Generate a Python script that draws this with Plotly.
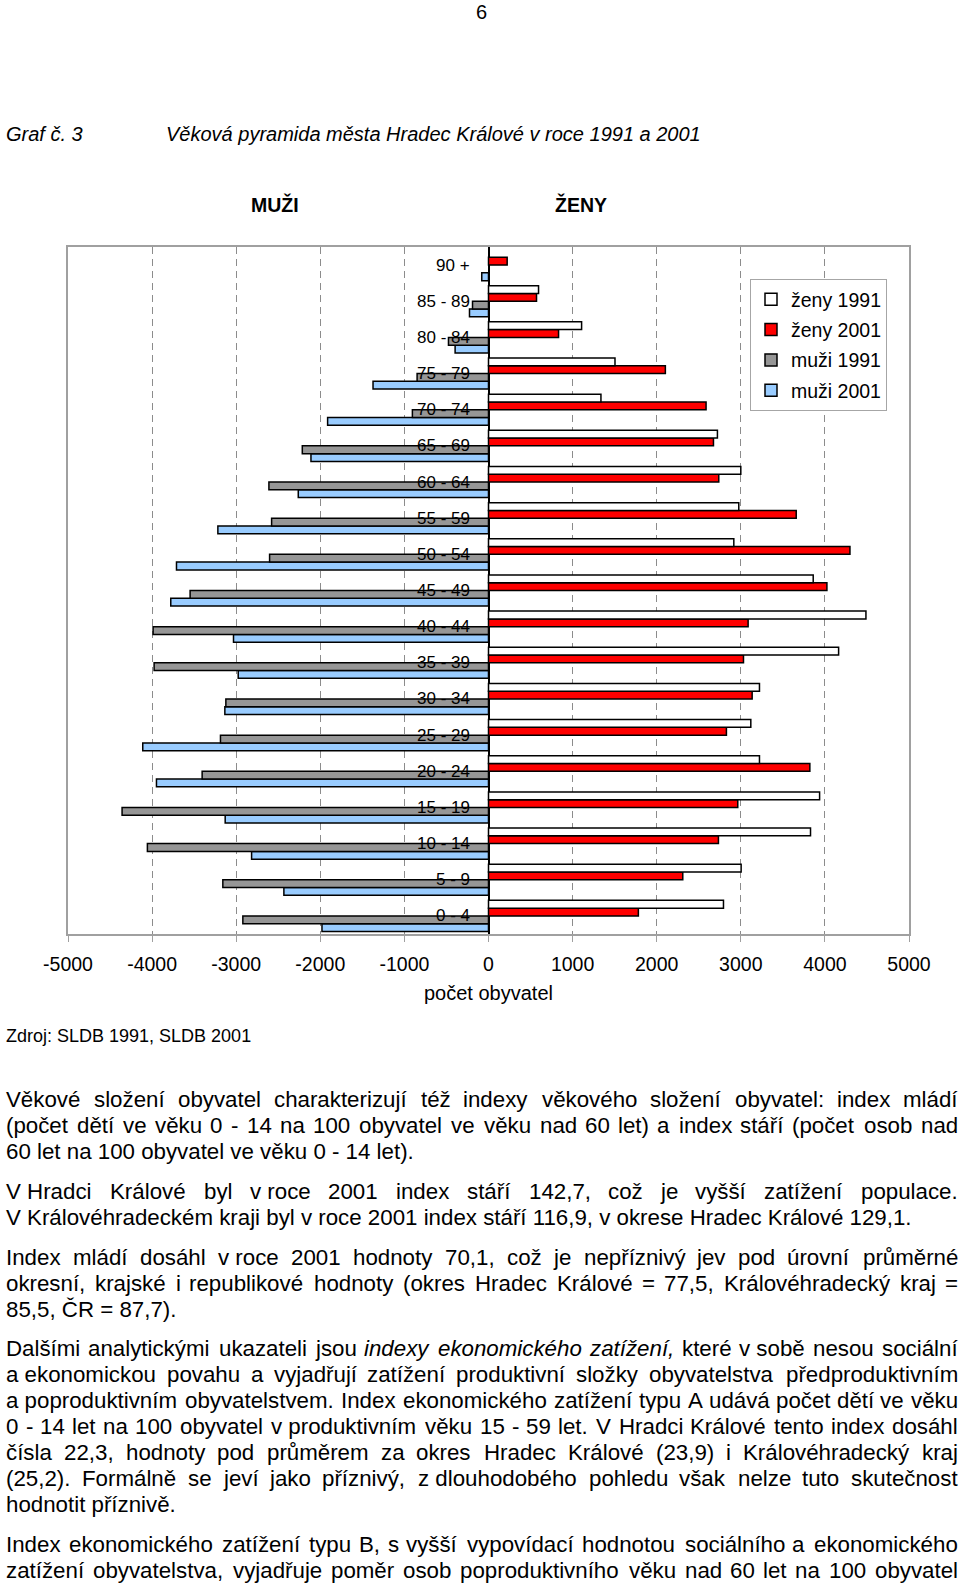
import plotly.graph_objects as go

# ---------------- data ----------------
categories = ["0 - 4", "5 - 9", "10 - 14", "15 - 19", "20 - 24", "25 - 29", "30 - 34",
              "35 - 39", "40 - 44", "45 - 49", "50 - 54", "55 - 59", "60 - 64", "65 - 69",
              "70 - 74", "75 - 79", "80 - 84", "85 - 89", "90 +"]
zeny_1991 = [2794, 3004, 3829, 3937, 3222, 3119, 3222, 4163, 4488, 3861, 2917, 2976, 3000,
             2722, 1337, 1504, 1107, 595, None]
zeny_2001 = [1782, 2310, 2734, 2964, 3821, 2829, 3135, 3032, 3087, 4024, 4298, 3659, 2738,
             2675, 2587, 2103, 833, 571, 222]
muzi_1991 = [2921, 3159, 4056, 4357, 3405, 3187, 3123, 3976, 3988, 3548, 2603, 2579, 2611,
             2214, 905, 849, 476, 190, None]
muzi_2001 = [1980, 2433, 2817, 3131, 3948, 4111, 3135, 2976, 3032, 3778, 3710, 3218, 2262,
             2111, 1913, 1373, 397, 226, 80]
x_ticks = [-5000, -4000, -3000, -2000, -1000, 0, 1000, 2000, 3000, 4000, 5000]
x_tick_labels = ["-5000", "-4000", "-3000", "-2000", "-1000", "0", "1000", "2000", "3000", "4000", "5000"]

page_number = "6"
graf_label = "Graf č. 3"
title_text = "Věková pyramida města Hradec Králové v roce 1991 a 2001"
left_head = "MUŽI"
right_head = "ŽENY"
x_title = "počet obyvatel"
source_text = "Zdroj: SLDB 1991, SLDB 2001"

NB = "\u00a0"
body_lines = [
    ("Věkové složení obyvatel charakterizují též indexy věkového složení obyvatel: index mládí", True),
    ("(počet dětí ve věku 0 - 14 na 100 obyvatel ve věku nad 60 let) a index stáří (počet osob nad", True),
    ("60 let na 100 obyvatel ve věku 0 - 14 let).", False),
    ("V" + NB + "Hradci Králové byl v" + NB + "roce 2001 index stáří 142,7, což je vyšší zatížení populace.", True),
    ("V" + NB + "Královéhradeckém kraji byl v" + NB + "roce 2001 index stáří 116,9, v okrese Hradec Králové 129,1.", False),
    ("Index mládí dosáhl v" + NB + "roce 2001 hodnoty 70,1, což je nepříznivý jev pod úrovní průměrné", True),
    ("okresní, krajské i republikové hodnoty (okres Hradec Králové = 77,5, Královéhradecký kraj =", True),
    ("85,5, ČR = 87,7).", False),
    ("Dalšími analytickými ukazateli jsou <i>indexy</i> <i>ekonomického</i> <i>zatížení,</i> které v" + NB + "sobě nesou sociální", True),
    ("a" + NB + "ekonomickou povahu a vyjadřují zatížení produktivní složky obyvatelstva předproduktivním", True),
    ("a" + NB + "poproduktivním obyvatelstvem. Index ekonomického zatížení typu A udává počet dětí ve věku", True),
    ("0 - 14 let na 100 obyvatel v" + NB + "produktivním věku 15 - 59 let. V Hradci Králové tento index dosáhl", True),
    ("čísla 22,3, hodnoty pod průměrem za okres Hradec Králové (23,9) i Královéhradecký kraj", True),
    ("(25,2). Formálně se jeví jako příznivý, z" + NB + "dlouhodobého pohledu však nelze tuto skutečnost", True),
    ("hodnotit příznivě.", False),
    ("Index ekonomického zatížení typu B, s vyšší vypovídací hodnotou sociálního a ekonomického", True),
    ("zatížení obyvatelstva, vyjadřuje poměr osob poproduktivního věku nad 60 let na 100 obyvatel", True),
]
body_y = [1099, 1125, 1151, 1191, 1217, 1257, 1283, 1309, 1348, 1374, 1400, 1426, 1452, 1478,
          1504, 1544, 1570]

# ---------------- layout helpers ----------------
W, H = 960, 1583
ML, MR, MT, MB = 68, 51, 247, 649
PW = W - ML - MR
PH = H - MT - MB


def fx(x):
    return (x - ML) / PW


def fy(y):
    return (H - MB - y) / PH


SANS = "Liberation Sans, Arial, sans-serif"

AW = {' ': 278, NB: 278, '!': 278, '(': 333, ')': 333, ',': 278, '-': 333, '.': 278, ':': 278,
      '=': 584, 'A': 667, 'B': 667, 'C': 722, 'D': 722, 'E': 667, 'F': 611, 'H': 722, 'I': 278,
      'K': 667, 'L': 556, 'M': 833, 'R': 722, 'S': 667, 'V': 667, 'Z': 611, 'Č': 722, 'Ž': 611,
      'N': 722, 'Y': 667, 'U': 722, 'a': 556, 'b': 556, 'c': 500, 'd': 556, 'e': 556, 'f': 278,
      'g': 556, 'h': 556, 'i': 222, 'j': 222, 'k': 500, 'l': 222, 'm': 833, 'n': 556, 'o': 556,
      'p': 556, 'r': 333, 's': 500, 't': 278, 'u': 556, 'v': 500, 'w': 722, 'x': 500, 'y': 500,
      'z': 500, 'á': 556, 'é': 556, 'ě': 556, 'í': 278, 'ý': 500, 'č': 500, 'ř': 333, 'š': 500,
      'ž': 500, 'ů': 556, 'ú': 556, 'ď': 615}


def strip(s):
    return s.replace("<i>", "").replace("</i>", "")


def text_w(s, size):
    return sum(AW.get(c, 556) for c in strip(s)) / 1000.0 * size * 1.012


fig = go.Figure()

series = [("muži 2001", muzi_2001, "#99CCFF", -1, 4),
          ("muži 1991", muzi_1991, "#969696", -1, 3),
          ("ženy 2001", zeny_2001, "#FF0000", 1, 2),
          ("ženy 1991", zeny_1991, "#FFFFFF", 1, 1)]
for name, vals, color, sign, rank in series:
    fig.add_trace(go.Bar(
        y=categories,
        x=[None if v is None else sign * v for v in vals],
        orientation="h",
        name=name,
        legendgroup=name,
        legendrank=rank,
        marker=dict(color=color, line=dict(color="black", width=1.5)),
    ))

annotations = []
for c in categories:
    annotations.append(dict(x=0, y=c, xref="x", yref="y", text=c, showarrow=False,
                            xanchor="right", yanchor="middle", xshift=-17,
                            font=dict(family=SANS, size=17, color="black")))


def ann(x, y, text, size, xanchor="left", pad=1):
    annotations.append(dict(x=fx(x), y=fy(y), xref="paper", yref="paper", text=text,
                            showarrow=False, xanchor=xanchor, yanchor="middle",
                            borderpad=pad, borderwidth=0,
                            font=dict(family=SANS, size=size, color="black")))


ann(481, 12, page_number, 20, xanchor="center")
ann(5, 134, "<i>" + graf_label + "</i>", 20)
ann(165, 134, "<i>" + title_text + "</i>", 20)
ann(275, 204, "<b>" + left_head + "</b>", 19.5, xanchor="center")
ann(581, 204, "<b>" + right_head + "</b>", 19.5, xanchor="center")
ann(488.7, 993, x_title, 20, xanchor="center")
ann(5, 1036, source_text, 18)

BODY_SIZE = 22.3
LEFT, RIGHT = 6, 958
for (line, just), yy in zip(body_lines, body_y):
    if not just:
        ann(LEFT, yy, line, BODY_SIZE, pad=0)
        continue
    words = line.split(" ")
    widths = [text_w(w, BODY_SIZE) for w in words]
    gap = (RIGHT - LEFT - sum(widths)) / (len(words) - 1)
    if gap < 3:
        natural = text_w(line, BODY_SIZE)
        size = min(BODY_SIZE, BODY_SIZE * (RIGHT - LEFT) / natural)
        ann(LEFT, yy, line, size, pad=0)
        continue
    n = len(words)
    half = n // 2
    pos = LEFT
    for i in range(half):
        ann(pos, yy, words[i], BODY_SIZE, xanchor="left", pad=0)
        pos += widths[i] + gap
    pos = RIGHT
    for i in range(n - 1, half - 1, -1):
        ann(pos, yy, words[i], BODY_SIZE, xanchor="right", pad=0)
        pos -= widths[i] + gap

fig.update_layout(
    width=W, height=H,
    margin=dict(l=ML, r=MR, t=MT, b=MB, pad=0),
    paper_bgcolor="white", plot_bgcolor="white",
    barmode="group", bargap=0.14, bargroupgap=0,
    showlegend=True,
    legend=dict(x=fx(750), y=fy(279), xanchor="left", yanchor="top",
                traceorder="grouped", tracegroupgap=2, itemwidth=30,
                bgcolor="white", bordercolor="#a6a6a6", borderwidth=1,
                font=dict(family=SANS, size=19.5, color="black")),
    annotations=annotations,
    font=dict(family=SANS, color="black"),
)
fig.update_xaxes(
    range=[-5000, 5000], tickvals=x_ticks, ticktext=x_tick_labels,
    showgrid=True, gridcolor="#8c8c8c", griddash="7px,5px", gridwidth=1,
    zeroline=True, zerolinecolor="black", zerolinewidth=1.5,
    showline=True, mirror=True, linecolor="#a0a0a0", linewidth=2,
    ticks="outside", ticklen=6, tickcolor="#a0a0a0", tickwidth=1,
    tickfont=dict(family=SANS, size=19.5, color="black"), ticklabelstandoff=6,
)
fig.update_yaxes(
    type="category", categoryorder="array", categoryarray=categories,
    showticklabels=False, showgrid=False, zeroline=False,
    showline=True, mirror=True, linecolor="#a0a0a0", linewidth=2, ticks="",
)

fig.write_html("out.html", config={"displayModeBar": False},
               post_script="document.body.style.margin='0';document.body.style.overflow='hidden';")
